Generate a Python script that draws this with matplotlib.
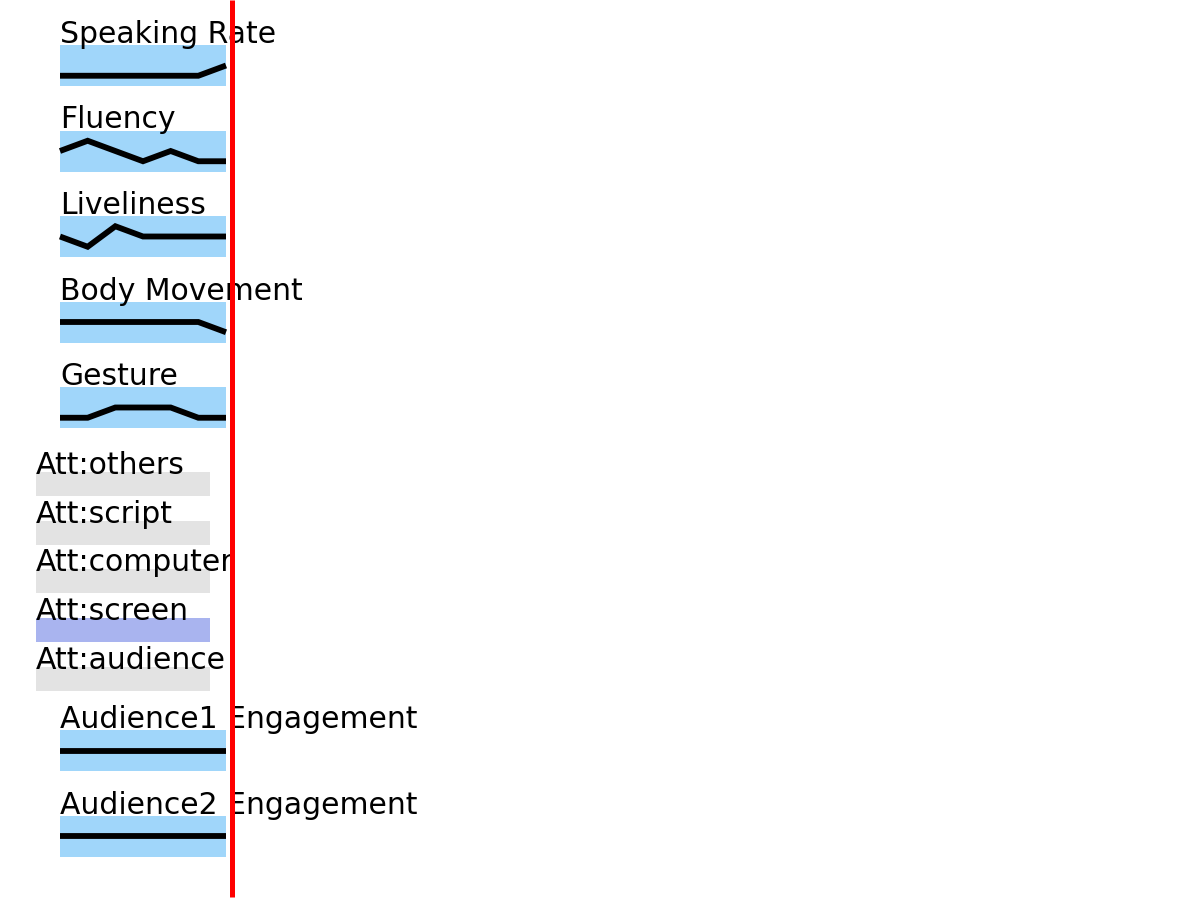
import matplotlib
matplotlib.use("Agg")
import matplotlib.pyplot as plt

# ---- data ----
spark_names = ["Speaking Rate", "Fluency", "Liveliness", "Body Movement", "Gesture"]
spark_values = [
    [1, 1, 1, 1, 1, 1, 2],
    [2, 3, 2, 1, 2, 1, 1],
    [2, 1, 3, 2, 2, 2, 2],
    [2, 2, 2, 2, 2, 2, 1],
    [1, 1, 2, 2, 2, 1, 1],
]
att_names = ["Att:others", "Att:script", "Att:computer", "Att:screen", "Att:audience"]
att_active = [0, 0, 0, 1, 0]
aud_names = ["Audience1 Engagement", "Audience2 Engagement"]
aud_values = [
    [2, 2, 2, 2, 2, 2, 2],
    [2, 2, 2, 2, 2, 2, 2],
]
cursor_px = 232

# ---- style ----
W, H = 1200, 900
BLUE = "#a0d6fa"
GREY = "#e3e3e3"
ACTIVE = "#a9b4ef"
FONT = dict(family="DejaVu Sans", size=21.5, color="black")

fig = plt.figure(figsize=(12, 9), dpi=100)
bg = fig.add_axes([0, 0, 1, 1])
bg.set_xlim(0, W)
bg.set_ylim(H, 0)
bg.axis("off")

labels = []  # (x, baseline, text) drawn on the overlay so they sit on top


def sparkline(top, name, vals):
    left, width, height = 60, 166, 41
    ax = fig.add_axes([left / W, (H - top - height) / H, width / W, height / H])
    ax.set_facecolor(BLUE)
    ax.plot(range(len(vals)), vals, color="black", lw=4.2,
            solid_joinstyle="miter", solid_capstyle="butt", clip_on=False)
    ax.set_xlim(0, len(vals) - 1)
    ax.set_ylim(0, 4)
    ax.set_xticks([])
    ax.set_yticks([])
    for s in ax.spines.values():
        s.set_visible(False)
    labels.append((left, top - 2, name))


spark_tops = [45, 130.5, 216, 301.5, 387]
for top, name, vals in zip(spark_tops, spark_names, spark_values):
    sparkline(top, name, vals)

# attention rows
att_tops = [472 + i * 48.7 for i in range(len(att_names))]
bg.barh(att_tops, [174] * len(att_names), height=24, left=36, align="edge",
        color=[ACTIVE if a else GREY for a in att_active], zorder=1)
for top, name in zip(att_tops, att_names):
    labels.append((36, top + 2, name))

aud_tops = [730, 815.5]
for top, name, vals in zip(aud_tops, aud_names, aud_values):
    sparkline(top, name, vals)

# overlay: labels and time cursor (red line) on top of everything
cur = fig.add_axes([0, 0, 1, 1])
cur.set_xlim(0, W)
cur.set_ylim(H, 0)
cur.axis("off")
cur.patch.set_alpha(0)
for x, y, t in labels:
    cur.text(x, y, t, ha="left", va="baseline", **FONT, zorder=3)
cur.axvline(cursor_px, ymin=3 / H, ymax=1, color="#ff0000", lw=3.6,
            solid_capstyle="butt", zorder=5)

fig.savefig("out.png", dpi=100)
